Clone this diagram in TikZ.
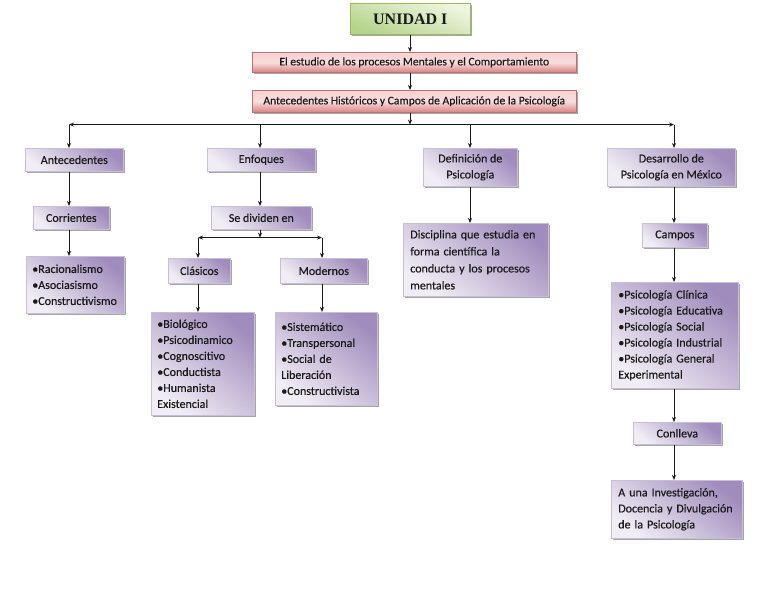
\documentclass[tikz,border=0pt]{standalone}
\usepackage{fontspec}
\setmainfont{Carlito}[FakeBold=0.35]
\newfontfamily\titlefont{Liberation Serif}
\usetikzlibrary{arrows.meta,shadows}
\definecolor{pd}{HTML}{A18DBD}
\definecolor{pl}{HTML}{F1EDF5}
\definecolor{pborder}{HTML}{C9BEDA}
\definecolor{rd}{HTML}{D98282}
\definecolor{rl}{HTML}{F6D0D0}
\definecolor{rborder}{HTML}{C07070}
\definecolor{gd}{HTML}{B5D38A}
\definecolor{gl}{HTML}{EEF6E0}
\definecolor{gborder}{HTML}{9BBB59}
\definecolor{txt}{HTML}{1A1A1A}
\begin{document}
\begin{tikzpicture}[x=1pt,y=-1pt,
  base/.style={line width=0.6pt, inner sep=0pt, anchor=north west, text=txt,
    drop shadow={shadow xshift=2pt,shadow yshift=-2pt,opacity=0.35,fill=black},
    font=\fontsize{12}{16}\selectfont},
  pbox/.style={base, draw=pborder, top color=pd, bottom color=pl, shading angle=-40},
  rbox/.style={base, draw=rborder, top color=rl, bottom color=rd, middle color=rl!70!white,
    font=\fontsize{11.6}{14}\selectfont},
  gbox/.style={base, draw=gborder, top color=gl, bottom color=gd, shading angle=-20},
  lst/.style={align=left, inner xsep=6pt},
  arr/.style={draw=txt, line width=0.8pt, -{Stealth[length=5pt,width=4pt]}},
  ln/.style={draw=txt, line width=0.8pt}]
\useasboundingbox (0,0) rectangle (768,594);

% column coordinates
\coordinate (cU) at (410,0);
\coordinate (cA) at (69,0);
\coordinate (cE) at (260,0);
\coordinate (cD) at (470,0);
\coordinate (cM) at (674,0);
\coordinate (cC) at (198,0);
\coordinate (cMo) at (322,0);

% top
\node[gbox, minimum width=120pt, minimum height=31pt] (u) at (350,3)
  {\titlefont\fontsize{16}{16}\selectfont\bfseries UNIDAD I};
\node[rbox, minimum width=324pt, minimum height=20pt] (e) at (252,52)
  {El estudio de los procesos Mentales y el Comportamiento};
\node[rbox, minimum width=324pt, minimum height=22pt] (a) at (252,90)
  {Antecedentes Históricos y Campos de Aplicación de la Psicología};

% level 2
\node[pbox, minimum width=98pt, minimum height=23pt] (ant) at (25,148) {Antecedentes};
\node[pbox, minimum width=108pt, minimum height=23pt] (enf) at (207,148) {Enfoques};
\node[pbox, minimum width=94pt, minimum height=38pt, align=center] (def) at (423,148)
  {Definición de\\Psicología};
\node[pbox, minimum width=128pt, minimum height=38pt, align=center] (des) at (607,148)
  {Desarrollo de\\Psicología en México};

% level 3
\node[pbox, minimum width=76pt, minimum height=23pt] (cor) at (33,206) {Corrientes};
\node[pbox, minimum width=100pt, minimum height=23pt] (sd) at (211,206) {Se dividen en};
\node[pbox, lst, text width=131pt, minimum height=73pt, inner xsep=7pt, font=\fontsize{12}{17}\selectfont] (disc) at (403,223)
  {Disciplina que estudia en\\forma científica la\\conducta y los procesos\\mentales};
\node[pbox, minimum width=65pt, minimum height=24pt] (cam) at (642,223) {Campos};

% level 4
\node[pbox, lst, text width=86pt, minimum height=57pt] (rac) at (26,256)
  {•Racionalismo\\•Asociasismo\\•Constructivismo};
\node[pbox, minimum width=62pt, minimum height=25pt] (cla) at (168,258) {Clásicos};
\node[pbox, minimum width=87pt, minimum height=25pt] (mod) at (280,258) {Modernos};
\node[pbox, lst, text width=91pt, minimum height=103pt] (bio) at (151,312)
  {•Biológico\\•Psicodinamico\\•Cognoscitivo\\•Conductista\\•Humanista\\Existencial};
\node[pbox, lst, text width=90pt, minimum height=93pt] (sis) at (275,312)
  {•Sistemático\\•Transpersonal\\•Social de\\Liberación\\•Constructivista};
\node[pbox, lst, text width=113pt, minimum height=106pt, inner xsep=7pt] (psi) at (611,282)
  {•Psicología Clínica\\•Psicología Educativa\\•Psicología Social\\•Psicología Industrial\\•Psicología General\\Experimental};
\node[pbox, minimum width=88pt, minimum height=22pt] (con) at (633,422) {Conlleva};
\node[pbox, lst, text width=117pt, minimum height=58pt, inner xsep=7pt] (inv) at (611,480)
  {A una Investigación,\\Docencia y Divulgación\\de la Psicología};

% connectors top
\draw[arr] (u.south -| cU) -- (e.north -| cU);
\draw[arr] (e.south -| cU) -- (a.north -| cU);
\draw[arr] (a.south -| cU) -- ++(0,12) coordinate (bar);
\draw[ln, -{Stealth[length=5pt,width=4pt]}] (bar) -- (bar -| cA);
\draw[ln, -{Stealth[length=5pt,width=4pt]}] (bar) -- (bar -| cM);
\draw[arr] (bar -| cA) -- (ant.north -| cA);
\draw[arr] (bar -| cE) -- (enf.north -| cE);
\draw[arr] (bar -| cD) -- (def.north -| cD);
\draw[arr] (bar -| cM) -- (des.north -| cM);

% column A
\draw[arr] (ant.south -| cA) -- (cor.north -| cA);
\draw[arr] (cor.south -| cA) -- (rac.north -| cA);

% column E
\draw[arr] (enf.south -| cE) -- (sd.north -| cE);
\draw[arr] (sd.south -| cE) -- ++(0,8) coordinate (split);
\draw[ln, -{Stealth[length=5pt,width=4pt]}] (split) -- (split -| cC);
\draw[ln, -{Stealth[length=5pt,width=4pt]}] (split) -- (split -| cMo);
\draw[arr] (split -| cC) -- (cla.north -| cC);
\draw[arr] (split -| cMo) -- (mod.north -| cMo);
\draw[arr] (cla.south -| cC) -- (bio.north -| cC);
\draw[arr] (mod.south -| cMo) -- (sis.north -| cMo);

% column D
\draw[arr] (def.south -| cD) -- (disc.north -| cD);

% column M
\draw[arr] (des.south -| cM) -- (cam.north -| cM);
\draw[arr] (cam.south -| cM) -- (psi.north -| cM);
\draw[arr] (psi.south -| cM) -- (con.north -| cM);
\draw[arr] (con.south -| cM) -- (inv.north -| cM);
\end{tikzpicture}
\end{document}
